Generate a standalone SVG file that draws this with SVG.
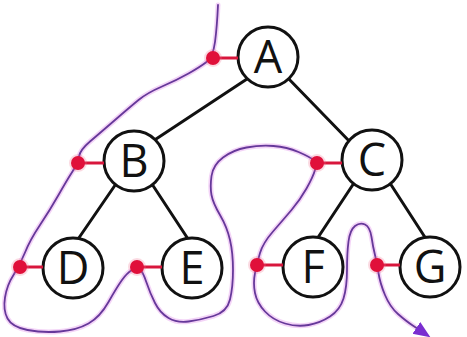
<svg xmlns="http://www.w3.org/2000/svg" width="467" height="337" viewBox="0 0 467 337">
<style>
.edge{stroke:#111;stroke-width:3;fill:none;stroke-linecap:round}
.node circle{fill:#fff;stroke:#111;stroke-width:3}
.node text{font-family:"Open Sans","Liberation Sans",sans-serif;font-size:45px;fill:#111;text-anchor:middle}
.tick{stroke:#d8163c;stroke-width:3}
.dot{fill:#e0103a}
.glow{fill:#f06a8a;opacity:0.25}
.halo{fill:none;stroke:#eab0f0;stroke-width:5;opacity:0.55;stroke-linejoin:round;stroke-linecap:round}
.trace{fill:none;stroke:#66389a;stroke-width:1.8;stroke-linejoin:round;stroke-linecap:round}
</style>
<defs>
<marker id="arrow" markerUnits="userSpaceOnUse" markerWidth="20" markerHeight="16" refX="2" refY="7" orient="auto">
<path d="M0,0 L17,7 L0,14 z" fill="#7a2ed0"/>
</marker>
<path id="tour" d="M218,5 Q217,27 215,42 Q213,57 206.5,62 Q200,67 188.5,73.5 Q177,80 162,86.5 Q147,93 138.5,100 Q130,107 115,120 Q100,133 90,141.5 Q80,150 79,156.5 Q78,163 72.5,171.5 Q67,180 58.5,195 Q50,210 40,225 Q30,240 25,252.5 Q20,265 13.5,275 Q7,285 5,297.5 Q3,310 7.5,318.5 Q12,327 27.5,330 Q43,333 60,331.5 Q77,330 88.5,323.5 Q100,317 108.5,302 Q117,287 122,280 Q127,273 132,270 Q137,267 140,269.5 Q143,272 146.5,282.5 Q150,293 155,303 Q160,313 168.5,318 Q177,323 188.5,321.5 Q200,320 213.5,316 Q227,312 230,299.5 Q233,287 233,270 Q233,253 230,240 Q227,227 220,215 Q213,203 211.5,195 Q210,187 211.5,176 Q213,165 223,157.5 Q233,150 246.5,147.5 Q260,145 273.5,146 Q287,147 298.5,152 Q310,157 313.5,160 Q317,163 315,170 Q313,177 306.5,188.5 Q300,200 291.5,210 Q283,220 273,231.5 Q263,243 260,253 Q257,263 255,273 Q253,283 255,293 Q257,303 265,311.5 Q273,320 285,323.5 Q297,327 308.5,325 Q320,323 330,316.5 Q340,310 343.5,298.5 Q347,287 347,270 Q347,253 348.5,241.5 Q350,230 355,226 Q360,222 365,224.5 Q370,227 371.5,237 Q373,247 375,255 Q377,263 378.5,273 Q380,283 385,295 Q390,307 398,314 Q406,321 412,325 L418,329"/>
</defs>
<g id="connectors">
<line class="edge" x1="250" y1="77" x2="150" y2="143"/>
<line class="edge" x1="285" y1="75" x2="353" y2="145"/>
<line class="edge" x1="120" y1="178" x2="74" y2="245"/>
<line class="edge" x1="148" y1="178" x2="192" y2="245"/>
<line class="edge" x1="358" y1="177" x2="313" y2="245"/>
<line class="edge" x1="386" y1="177" x2="430" y2="245"/>
</g>
<g id="tour-path">
<use href="#tour" class="halo"/>
<use href="#tour" class="trace" marker-end="url(#arrow)"/>
</g>
<g id="node-A" class="node"><circle cx="268" cy="57" r="30"/><text x="268" y="73">A</text></g>
<g id="node-B" class="node"><circle cx="134" cy="161" r="30"/><text x="134" y="177">B</text></g>
<g id="node-C" class="node"><circle cx="372" cy="160" r="30"/><text x="372" y="176">C</text></g>
<g id="node-D" class="node"><circle cx="73" cy="268" r="30"/><text x="73" y="284">D</text></g>
<g id="node-E" class="node"><circle cx="192" cy="268" r="30"/><text x="192" y="284">E</text></g>
<g id="node-F" class="node"><circle cx="313" cy="267" r="30"/><text x="313" y="283">F</text></g>
<g id="node-G" class="node"><circle cx="430" cy="267" r="30"/><text x="430" y="283">G</text></g>
<g id="markers">
<line class="tick" x1="213" y1="58" x2="238" y2="58"/>
<circle class="glow" cx="213" cy="58" r="9"/><circle class="dot" cx="213" cy="58" r="7"/>
<line class="tick" x1="78" y1="163" x2="104" y2="163"/>
<circle class="glow" cx="78" cy="163" r="9"/><circle class="dot" cx="78" cy="163" r="7"/>
<line class="tick" x1="317" y1="163" x2="342" y2="163"/>
<circle class="glow" cx="317" cy="163" r="9"/><circle class="dot" cx="317" cy="163" r="7"/>
<line class="tick" x1="20" y1="267" x2="43" y2="267"/>
<circle class="glow" cx="20" cy="267" r="9"/><circle class="dot" cx="20" cy="267" r="7"/>
<line class="tick" x1="137" y1="267" x2="162" y2="267"/>
<circle class="glow" cx="137" cy="267" r="9"/><circle class="dot" cx="137" cy="267" r="7"/>
<line class="tick" x1="257" y1="265" x2="283" y2="265"/>
<circle class="glow" cx="257" cy="265" r="9"/><circle class="dot" cx="257" cy="265" r="7"/>
<line class="tick" x1="377" y1="265" x2="400" y2="265"/>
<circle class="glow" cx="377" cy="265" r="9"/><circle class="dot" cx="377" cy="265" r="7"/>
</g>
</svg>
